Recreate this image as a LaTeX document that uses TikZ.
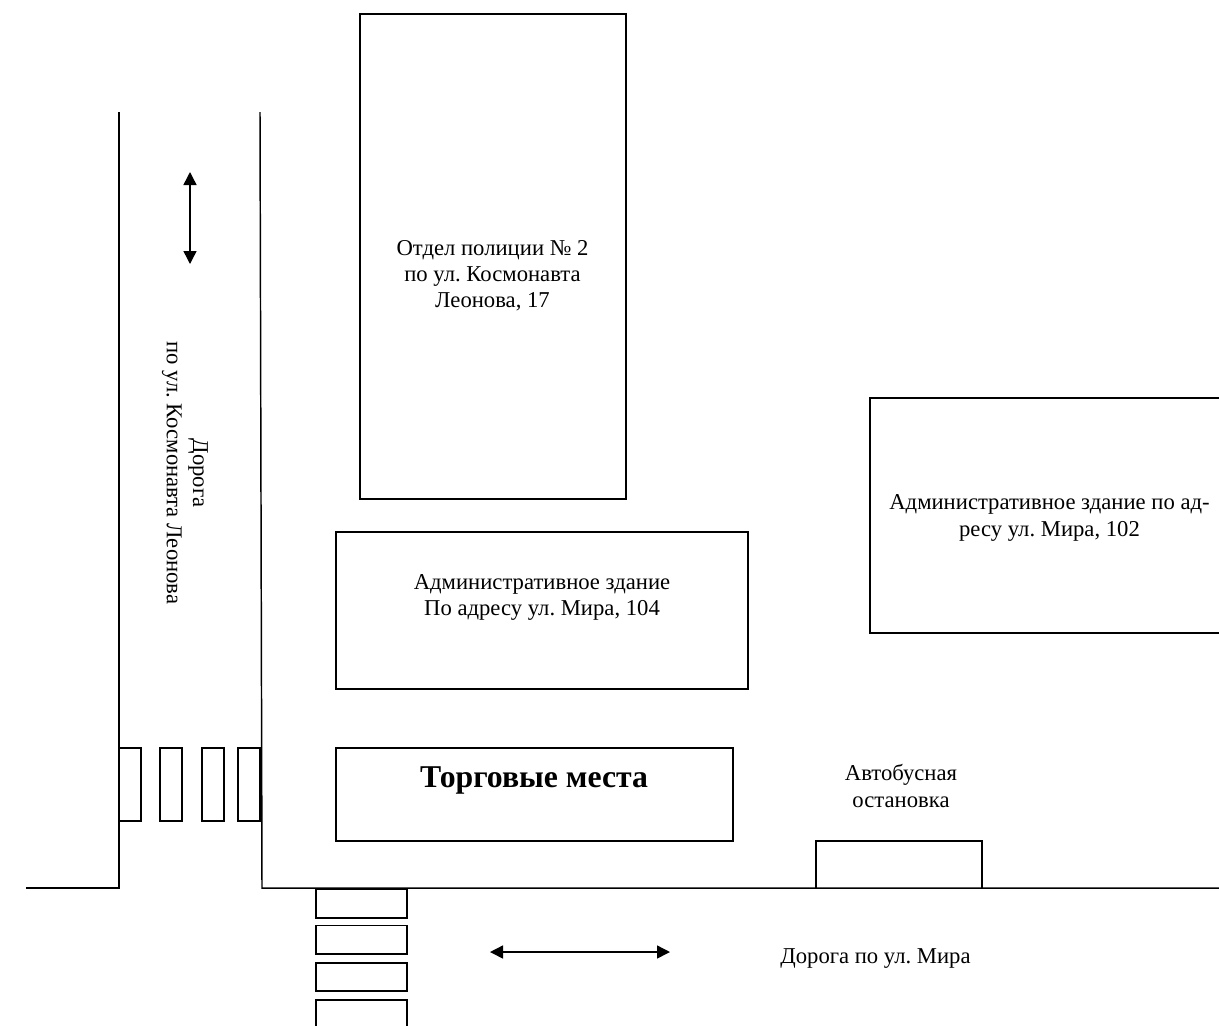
\documentclass[tikz,border=0pt]{standalone}
\usepackage{fontspec}
\setmainfont{Liberation Serif}
\usetikzlibrary{arrows.meta}
\frenchspacing
\tikzset{
  px/.style={x=0.75pt,y=-0.75pt},
  ln/.style={draw=black,line width=1.1pt},
  box/.style={ln,line cap=rect,line join=miter},
  arr/.style={ln,{Triangle[width=9.75pt,length=9.75pt]}-{Triangle[width=9.75pt,length=9.75pt]}},
  txt/.style={inner sep=0pt,align=center,font=\fontsize{17}{19.6}\selectfont\frenchspacing,text=black},
  bold/.style={inner sep=0pt,align=center,font=\fontsize{23.8}{28}\selectfont\bfseries,text=black},
}
\begin{document}
\begin{tikzpicture}[px]
\useasboundingbox (0,0) rectangle (1219,1025);
\clip (0,0) rectangle (1219,1025);
% road edges
\coordinate (lt) at (119,112);
\coordinate (lb) at (119,888);
\coordinate (le) at (26,888);
\coordinate (rt) at (260,112);
\coordinate (rb) at (262,888);
\coordinate (re) at (1225,888);
\draw[ln,line join=miter] (lt) -- (lb) -- (le);
\draw[ln,line join=miter] (rt) -- (rb) -- (re);
% buildings
\path[box] (360,14) coordinate (p1) rectangle (626,499) coordinate (p2);
\path[box] (336,532) rectangle (748,689);
\path[box] (336,748) rectangle (733,841);
\path[box] (870,398) rectangle (1230,633);
% bus stop
\coordinate (b1) at (816,888);
\coordinate (b2) at (816,841);
\coordinate (b3) at (982,841);
\coordinate (b4) at (982,888);
\draw[box] (b1) -- (b2) -- (b3) -- (b4);
% crossing on the left road
\foreach \xa/\xb in {119/141,160/182,202/224,238/260}
  \path[box] (\xa,748) rectangle (\xb,821);
% crossing on the lower road
\foreach \ya/\yb in {889/918,925.5/954,963/991,1000/1040}
  \path[box] (316,\ya) rectangle (407,\yb);
% arrows
\coordinate (a1) at (190,172);
\coordinate (a2) at (190,264);
\coordinate (a3) at (490,952);
\coordinate (a4) at (670,952);
\draw[arr] (a1) -- (a2);
\draw[arr] (a3) -- (a4);
% labels
\node[txt] (t1) at (492.5,276) {Отдел полиции № 2\\по ул. Космонавта\\Леонова, 17};
\node[txt] (t2) at (542,597.5) {Административное здание\\По адресу ул. Мира, 104};
\node[bold] (t3) at (534,780) {Торговые места};
\node[txt] (t4) at (1049.5,518) {Административное здание по ад-\\ресу ул. Мира, 102};
\node[txt] (t5) at (901,786) {Автобусная\\остановка};
\node[txt] (t6) at (875.5,958.5) {Дорога по ул. Мира};
\node[txt,rotate=-90] (t7) at (185,473) {Дорога\\по ул. Космонавта Леонова};
\end{tikzpicture}
\end{document}
